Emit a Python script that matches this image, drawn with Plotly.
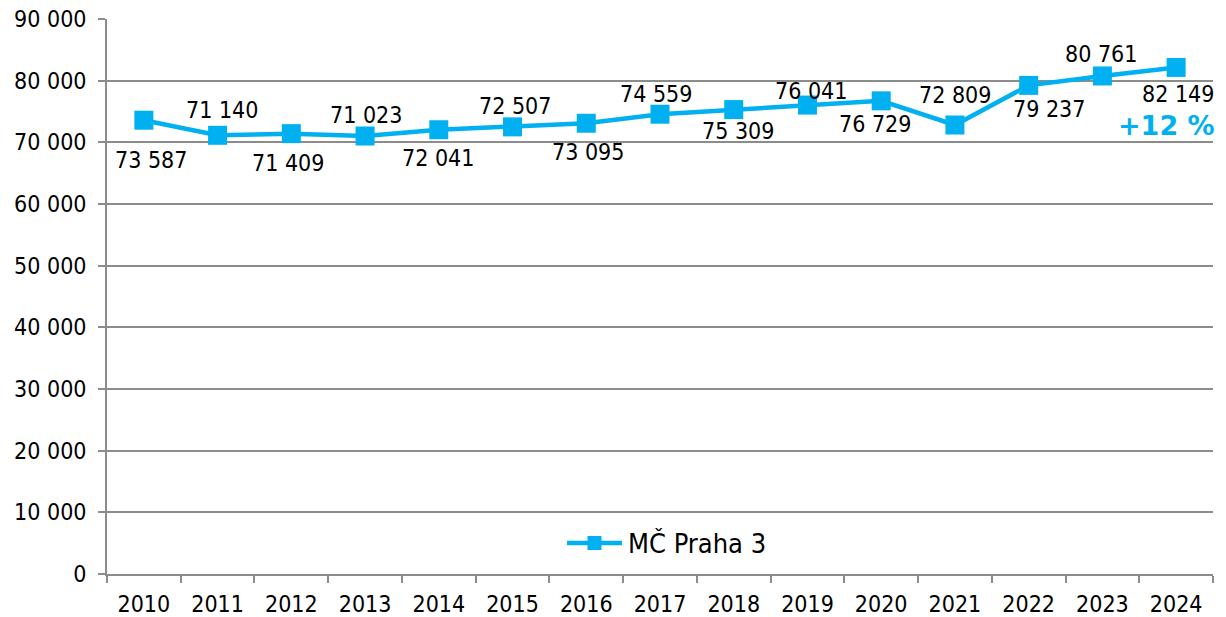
import plotly.graph_objects as go

years = ["2010", "2011", "2012", "2013", "2014", "2015", "2016", "2017",
         "2018", "2019", "2020", "2021", "2022", "2023", "2024"]
values = [73587, 71140, 71409, 71023, 72041, 72507, 73095, 74559,
          75309, 76041, 76729, 72809, 79237, 80761, 82149]
series_name = "MČ Praha 3"
change_text = "+12 %"
y_ticks = [0, 10000, 20000, 30000, 40000, 50000, 60000, 70000, 80000, 90000]
y_tick_text = ["0", "10 000", "20 000", "30 000", "40 000", "50 000",
               "60 000", "70 000", "80 000", "90 000"]

BLUE = "#00B0F0"
GRID = "#8c8c8c"
FONT = "DejaVu Sans Condensed, DejaVu Sans, Verdana, sans-serif"
BOLD_FONT = "DejaVu Sans, Verdana, sans-serif"

# label offsets in screen pixels (dx right, dy down) relative to each point
label_offsets = [(7, 40), (4, -25), (-3, 29), (1, -21), (-1, 28), (2, -21),
                 (2, 29), (-4, -20), (4, 21), (4, -14), (-6, 23), (0, -30),
                 (20, 24), (-1, -22), (2, 27)]


def fmt(v):
    return f"{v:,}".replace(",", " ")


fig = go.Figure()
fig.add_trace(go.Scatter(
    x=years, y=values, mode="lines+markers", name=series_name,
    line=dict(color=BLUE, width=4.5),
    marker=dict(symbol="square", size=19, color=BLUE),
    showlegend=False, cliponaxis=False, hoverinfo="x+y",
))

annotations = []
for i, (v, (dx, dy)) in enumerate(zip(values, label_offsets)):
    annotations.append(dict(
        x=i, y=v, xref="x", yref="y", text=fmt(v), showarrow=False,
        xshift=dx, yshift=-dy, xanchor="center", yanchor="middle",
        font=dict(family=FONT, size=23, color="#000000"),
    ))
annotations.append(dict(
    x=len(values) - 1, y=values[-1], xref="x", yref="y",
    text=f"<b>{change_text}</b>",
    showarrow=False, xshift=-10, yshift=-58, xanchor="center", yanchor="middle",
    font=dict(family=BOLD_FONT, size=27, color=BLUE),
))

# custom legend
PL, PR, PT, PB = 107, 1213, 19, 574
def px_x(p):
    return (p - PL) / (PR - PL)
def px_y(p):
    return (PB - p) / (PB - PT)

leg_y = px_y(543)
shapes = [
    dict(type="line", xref="paper", yref="paper", x0=px_x(567), x1=px_x(622),
         y0=leg_y, y1=leg_y, line=dict(color=BLUE, width=4.5)),
    dict(type="rect", xref="paper", yref="paper", xsizemode="pixel", ysizemode="pixel",
         xanchor=px_x(594.5), yanchor=leg_y, x0=-7, x1=7, y0=-7, y1=7,
         fillcolor=BLUE, line=dict(width=0)),
]
annotations.append(dict(
    x=px_x(626), y=leg_y, xref="paper", yref="paper", text=series_name,
    showarrow=False, xanchor="left", yanchor="middle",
    font=dict(family=FONT, size=27, color="#000000"),
))

fig.update_layout(
    template="none",
    width=1226, height=617,
    margin=dict(l=107, r=13, t=19, b=43, pad=0, autoexpand=False),
    paper_bgcolor="white", plot_bgcolor="white",
    font=dict(family=FONT, color="#000000"),
    annotations=annotations, shapes=shapes,
    xaxis=dict(
        type="category", tickson="boundaries", ticks="outside", ticklen=7,
        tickcolor=GRID, tickwidth=1.8, showgrid=False, showline=True,
        linecolor=GRID, linewidth=1.8, tickfont=dict(size=23, family=FONT),
        ticklabelstandoff=8,
        range=[-0.5, 14.5], fixedrange=True, automargin=False,
    ),
    yaxis=dict(
        range=[0, 90000], tickvals=y_ticks, ticktext=y_tick_text,
        ticks="outside", ticklen=7, tickcolor=GRID, tickwidth=1.8,
        showgrid=True, gridcolor=GRID, gridwidth=1.8,
        showline=True, linecolor=GRID, linewidth=1.8,
        tickfont=dict(size=23, family=FONT), ticklabelstandoff=7,
        zeroline=False, fixedrange=True, automargin=False,
    ),
)

fig.write_html(
    "out.html",
    config={"displayModeBar": False},
    post_script="document.body.style.margin='0';document.body.style.overflow='hidden';",
)
